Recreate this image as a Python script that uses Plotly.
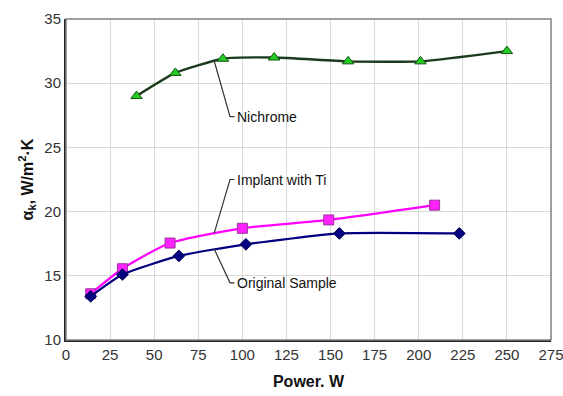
import plotly.graph_objects as go

nichrome_x = [40, 62, 89, 118, 160, 201, 250]
nichrome_y = [29.0, 30.8, 31.9, 32.0, 31.7, 31.7, 32.5]

implant_x = [14, 32, 59, 100, 149, 209]
implant_y = [13.6, 15.55, 17.55, 18.7, 19.35, 20.5]

original_x = [14, 32, 64, 102, 155, 223]
original_y = [13.4, 15.1, 16.55, 17.45, 18.3, 18.3]

x_ticks = [0, 25, 50, 75, 100, 125, 150, 175, 200, 225, 250, 275]
y_ticks = [10, 15, 20, 25, 30, 35]

font = "Liberation Sans, Arial, sans-serif"

fig = go.Figure()
fig.add_trace(go.Scatter(
    x=nichrome_x, y=nichrome_y, mode="lines+markers", name="Nichrome",
    line=dict(color="#1c3a1c", width=2.4, shape="spline", smoothing=0.5),
    marker=dict(symbol="triangle-up", size=10, color="#22cc22",
                line=dict(color="#145214", width=1))))
fig.add_trace(go.Scatter(
    x=implant_x, y=implant_y, mode="lines+markers", name="Implant with Ti",
    line=dict(color="#ff00ff", width=2.2, shape="spline", smoothing=0.6),
    marker=dict(symbol="square", size=10, color="#ff22ff",
                line=dict(color="#993399", width=1))))
fig.add_trace(go.Scatter(
    x=original_x, y=original_y, mode="lines+markers", name="Original Sample",
    line=dict(color="#000080", width=2.2, shape="spline", smoothing=0.5),
    marker=dict(symbol="diamond", size=9, color="#000080",
                line=dict(color="#000050", width=1))))

# leader lines and labels
leaders = [
    ("Nichrome", (84, 31.75), (93, 27.4)),
    ("Implant with Ti", (84, 18.3), (93, 22.5)),
    ("Original Sample", (84, 17.1), (93, 14.45)),
]
for label, (x0, y0), (x1, y1) in leaders:
    fig.add_shape(type="path",
                  path=f"M {x0},{y0} L {x1},{y1} L {x1+2.5},{y1}",
                  line=dict(color="#333333", width=1.2))
    fig.add_annotation(x=x1 + 3, y=y1, text=label, showarrow=False,
                       xanchor="left", yanchor="middle",
                       font=dict(family=font, size=14, color="#111111"))

# frame
fig.add_shape(type="rect", xref="paper", yref="paper", x0=0, y0=0, x1=1, y1=1,
              line=dict(color="#808080", width=1.5), layer="above")

fig.update_layout(
    width=563, height=396,
    margin=dict(l=66, r=12, t=19, b=56),
    paper_bgcolor="white", plot_bgcolor="white",
    showlegend=False,
    font=dict(family=font, size=14, color="#333333"),
)
fig.update_xaxes(range=[0, 275], tickvals=x_ticks, showgrid=True, automargin=False,
                 ticklabeloverflow="allow",
                 gridcolor="#d9d9d9", gridwidth=1, zeroline=False,
                 showline=True, linecolor="#222222", linewidth=2,
                 ticks="", tickfont=dict(size=15, color="#333333"),
                 title=dict(text="<b>Power. W</b>", font=dict(size=16, color="#111111"),
                            standoff=14))
fig.update_yaxes(range=[10, 35], tickvals=y_ticks, showgrid=True, automargin=False,
                 gridcolor="#d9d9d9", gridwidth=1, zeroline=False,
                 showline=True, linecolor="#222222", linewidth=2,
                 ticks="", tickfont=dict(size=15, color="#333333"),
                 title=dict(text="<b>α<sub>k</sub>, W/m<sup>2</sup>·K</b>",
                            font=dict(size=16, color="#111111"), standoff=7))

fig.write_html("out.html", config={"displayModeBar": False},
               post_script="document.body.style.margin='0';document.body.style.overflow='hidden';")
